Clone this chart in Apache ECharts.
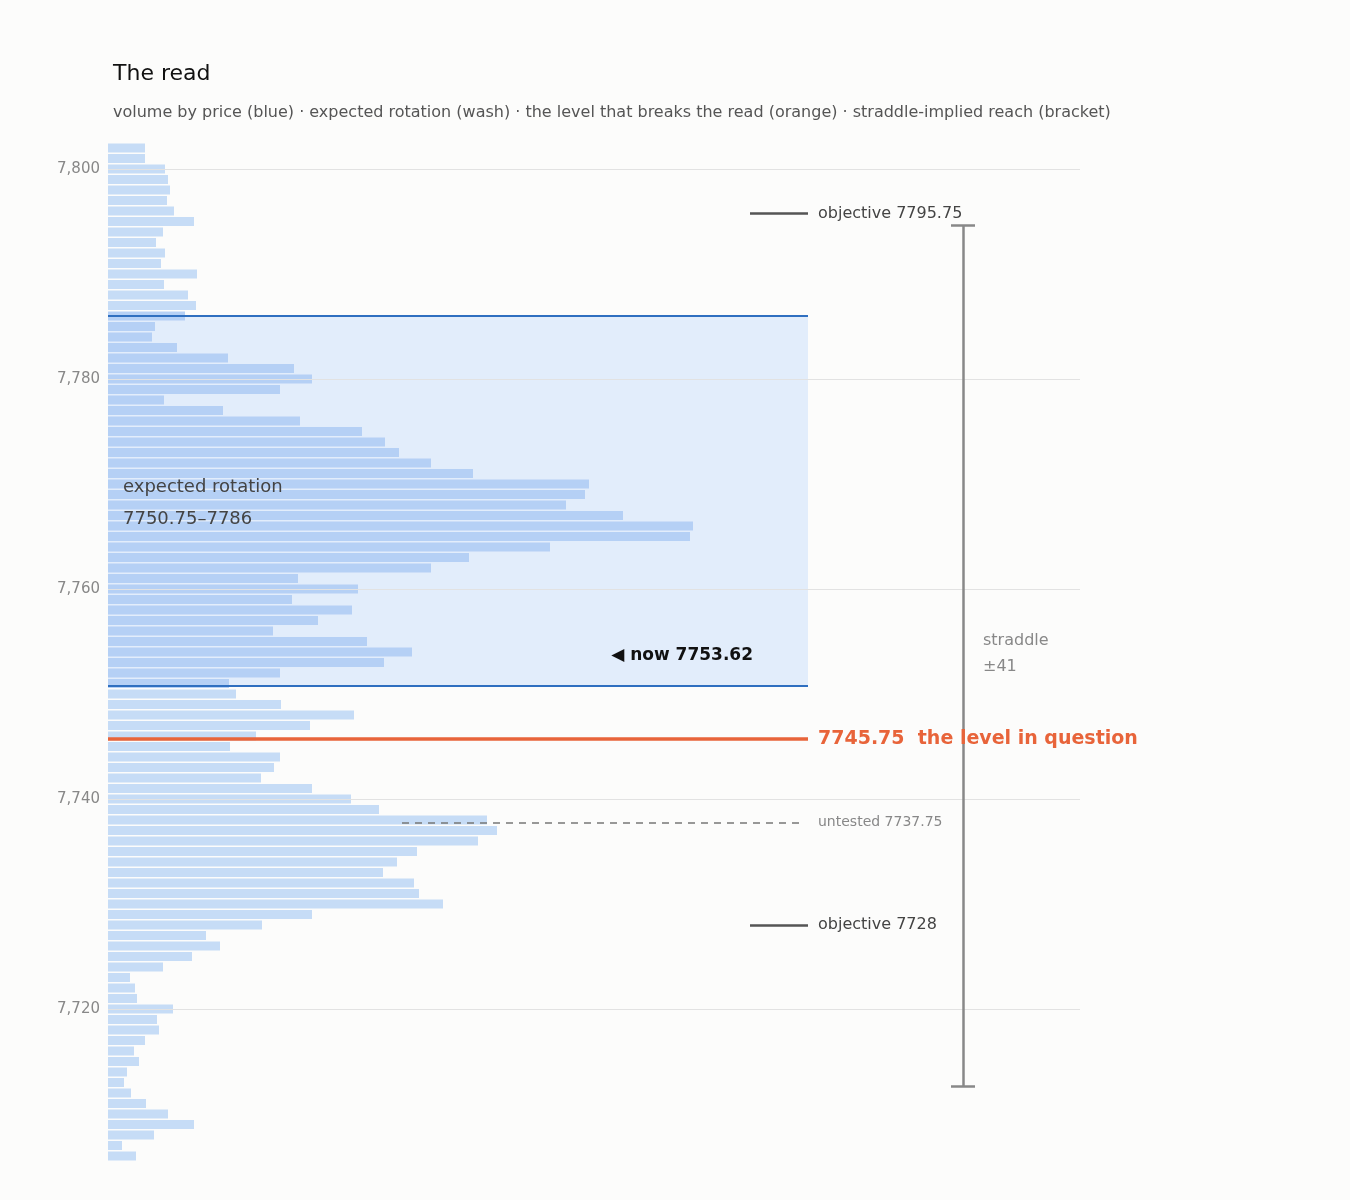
<!DOCTYPE html>
<html>
<head>
<meta charset="utf-8">
<script src="https://cdn.jsdelivr.net/npm/echarts@6/dist/echarts.min.js"></script>
<style>
  html, body, #main { width: 1350px; height: 1200px; margin: 0; background: #fcfcfb; }
</style>
</head>
<body>
<div id="main"></div>
<script>
// price levels, top to bottom
var prices = [];
for (var p = 7802; p >= 7706; p--) prices.push(p);
// volume at each price (relative units)
var volumes = [37, 37, 57, 60, 62, 59, 66, 86, 55, 48, 57, 53, 89, 56, 80, 88, 77, 47, 44, 69,
  120, 186, 204, 172, 56, 115, 192, 254, 277, 291, 323, 365, 481, 477, 458, 515, 585, 582, 442, 361,
  323, 190, 250, 184, 244, 210, 165, 259, 304, 276, 172, 121, 128, 173, 246, 202, 148, 122, 172, 166,
  153, 204, 243, 271, 379, 389, 370, 309, 289, 275, 306, 311, 335, 204, 154, 98, 112, 84, 55, 22,
  27, 29, 65, 49, 51, 37, 26, 31, 19, 16, 23, 38, 60, 86, 46, 14, 28];
var tickLabels = [7720, 7740, 7760, 7780, 7800];
var washLow = 7750.75, washHigh = 7786;
var breakLevel = 7745.75;
var untested = 7737.75;
var objectives = [7795.75, 7728];
var nowPrice = 7753.62;
var straddle = 41;

var chart = echarts.init(document.getElementById('main'));
var barData = prices.map(function (p, i) { return [volumes[i], p]; });

var gray = '#e2e2e2';
var lineX = 700; // right end of wash / level lines

function seg(y, x0, x1, style, label) {
  var a = { coord: [x0, y], lineStyle: style };
  if (label) a.label = label;
  return [a, { coord: [x1, y] }];
}

chart.setOption({
  backgroundColor: '#fcfcfb',
  animation: false,
  title: {
    text: 'The read',
    subtext: 'volume by price (blue) · expected rotation (wash) · the level that breaks the read (orange) · straddle-implied reach (bracket)',
    left: 108, top: 58, itemGap: 20,
    textStyle: { fontFamily: 'DejaVu Sans', fontSize: 22, fontWeight: 'normal', color: '#111' },
    subtextStyle: { fontFamily: 'DejaVu Sans', fontSize: 16, color: '#555' }
  },
  grid: { left: 108, right: 270, top: 142.75, bottom: 48.2 },
  xAxis: { type: 'value', min: 0, max: 972, show: false },
  yAxis: {
    type: 'value', min: 7706.4, max: 7802.5,
    axisLine: { show: false }, axisTick: { show: false }, splitLine: { show: false },
    axisLabel: { customValues: tickLabels, color: '#888', fontSize: 15, fontFamily: 'DejaVu Sans', margin: 8 }
  },
  series: [{
    type: 'custom',
    data: barData,
    renderItem: function (params, api) {
      var y = api.value(1);
      var a = api.coord([0, y]);
      var b = api.coord([api.value(0), y]);
      var inWash = y > washLow && y <= washHigh;
      return {
        type: 'rect',
        shape: { x: a[0], y: a[1] - 4.5, width: b[0] - a[0], height: 9 },
        style: { fill: inWash ? '#b5d0f5' : '#c6dcf6' }
      };
    },
    z: 3,
    markArea: {
      silent: true,
      itemStyle: { color: '#e2edfb' },
      data: [[{ coord: [0, washLow] }, { coord: [lineX, washHigh] }]]
    },
    markLine: {
      silent: true, symbol: 'none', animation: false,
      label: { show: false },
      data: tickLabels.map(function (t) {
        return seg(t, 0, 972, { color: gray, width: 1, type: 'solid' });
      }).concat([
        seg(washHigh, 0, lineX, { color: '#2f6fc0', width: 2, type: 'solid' }),
        seg(washLow, 0, lineX, { color: '#2f6fc0', width: 2, type: 'solid' }),
        seg(breakLevel, 0, lineX, { color: '#e8643a', width: 3.5, type: 'solid' },
          { show: true, position: 'end', formatter: breakLevel + '  the level in question',
            color: '#e8643a', fontSize: 19, fontWeight: 'bold', fontFamily: 'DejaVu Sans', distance: 10 }),
        seg(untested, 294, 697, { color: '#777', width: 1.5, type: [7, 6] },
          { show: true, position: 'end', formatter: 'untested ' + untested,
            color: '#888', fontSize: 14, fontFamily: 'DejaVu Sans', distance: 13 }),
        seg(objectives[0], 642, lineX, { color: '#555', width: 2.5, type: 'solid' },
          { show: true, position: 'end', formatter: 'objective ' + objectives[0],
            color: '#444', fontSize: 16, fontFamily: 'DejaVu Sans', distance: 10 }),
        seg(objectives[1], 642, lineX, { color: '#555', width: 2.5, type: 'solid' },
          { show: true, position: 'end', formatter: 'objective ' + objectives[1],
            color: '#444', fontSize: 16, fontFamily: 'DejaVu Sans', distance: 10 }),
        [{ coord: [855, nowPrice - straddle], lineStyle: { color: '#888', width: 2.5, type: 'solid' } }, { coord: [855, nowPrice + straddle] }],
        seg(nowPrice - straddle, 843, 867, { color: '#888', width: 2.5, type: 'solid' }),
        seg(nowPrice + straddle, 843, 867, { color: '#888', width: 2.5, type: 'solid' })
      ])
    },
    markPoint: {
      silent: true, symbol: 'circle', symbolSize: 0,
      data: [
        { coord: [15, 7768.2], label: { show: true, position: 'right', distance: 0, formatter: 'expected rotation\n7750.75–7786',
          color: '#444', fontSize: 18, lineHeight: 32, fontFamily: 'DejaVu Sans' } },
        { coord: [645, nowPrice], label: { show: true, position: 'left', distance: 0, formatter: '◀ now ' + nowPrice,
          color: '#111', fontSize: 17, fontWeight: 'bold', fontFamily: 'DejaVu Sans' } },
        { coord: [875, 7753.8], label: { show: true, position: 'right', distance: 0, formatter: 'straddle\n±' + straddle,
          color: '#888', fontSize: 16, lineHeight: 26, fontFamily: 'DejaVu Sans' } }
      ]
    }
  }]
});
</script>
</body>
</html>
